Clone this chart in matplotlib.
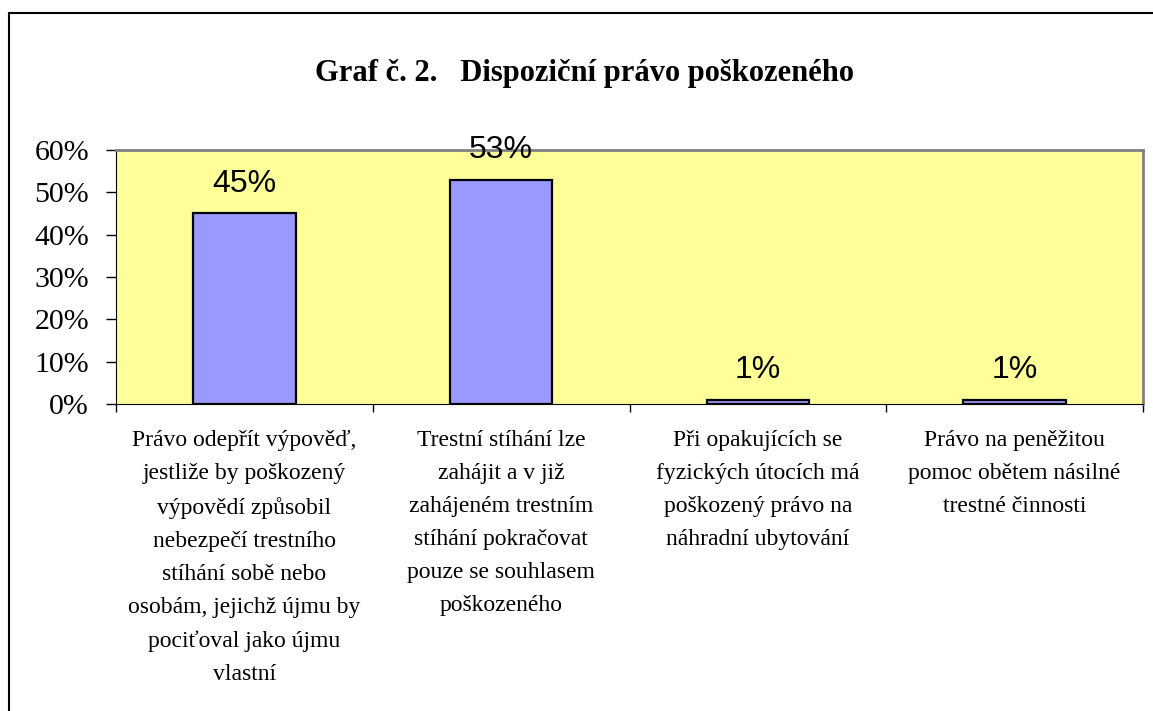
import matplotlib
matplotlib.use("Agg")
import matplotlib.pyplot as plt
from matplotlib.lines import Line2D
from matplotlib.ticker import FuncFormatter

categories = [
    "Právo odepřít výpověď,\njestliže by poškozený\nvýpovědí způsobil\nnebezpečí trestního\nstíhání sobě nebo\nosobám, jejichž újmu by\npociťoval jako újmu\nvlastní",
    "Trestní stíhání lze\nzahájit a v již\nzahájeném trestním\nstíhání pokračovat\npouze se souhlasem\npoškozeného",
    "Při opakujících se\nfyzických útocích má\npoškozený právo na\nnáhradní ubytování",
    "Právo na peněžitou\npomoc obětem násilné\ntrestné činnosti",
]
values = [0.45, 0.53, 0.01, 0.01]
labels = ["45%", "53%", "1%", "1%"]
title = "Graf č. 2.   Dispoziční právo poškozeného"

serif = ["Liberation Serif", "DejaVu Serif"]
sans = ["Liberation Sans", "DejaVu Sans"]

fig = plt.figure(figsize=(11.53, 7.11), dpi=100)
ax = fig.add_axes([116 / 1153, 1 - 404 / 711, (1143 - 116) / 1153, (404 - 150) / 711])
ax.set_facecolor("#FFFF99")

x = range(len(values))
bars = ax.bar(x, values, width=0.4, color="#9999FF", edgecolor="black", linewidth=1.6)
ax.set_xlim(-0.5, len(values) - 0.5)
ax.set_ylim(0, 0.6)

for b, lab in zip(bars, labels):
    ax.annotate(lab, (b.get_x() + b.get_width() / 2, b.get_height()),
                xytext=(0, 10.5), textcoords="offset points", ha="center", va="bottom",
                fontsize=23, family=sans)

ax.set_yticks([0, 0.1, 0.2, 0.3, 0.4, 0.5, 0.6])
ax.yaxis.set_major_formatter(FuncFormatter(lambda v, p: f"{v * 100:.0f}%"))
for t in ax.get_yticklabels():
    t.set_family(serif)
    t.set_fontsize(21.5)
ax.tick_params(axis="y", length=7.5, width=1, pad=12)

# category boundaries carry the ticks, labels sit in the middle
ax.set_xticks([i - 0.5 for i in range(len(values) + 1)])
ax.set_xticklabels([])
ax.tick_params(axis="x", length=6, width=1)
ax.set_xticks(list(x), minor=True)
ax.set_xticklabels(categories, minor=True, family=serif, fontsize=17, linespacing=1.75)
ax.tick_params(axis="x", which="minor", length=0, pad=19)

for side in ["top", "right"]:
    ax.spines[side].set_color("#808080")
    ax.spines[side].set_linewidth(2)
ax.spines["left"].set_color("black")
ax.spines["bottom"].set_color("black")

fig.text(0.507, 1 - 74 / 711, title, ha="center", va="center", fontsize=22,
         fontweight="bold", family=serif)

# outer chart frame (only the left and top edges are inside the picture)
fig.add_artist(Line2D([9 / 1153, 9 / 1153], [0, 1 - 13 / 711], color="black", lw=1.5))
fig.add_artist(Line2D([9 / 1153, 1], [1 - 13 / 711, 1 - 13 / 711], color="black", lw=1.5))

fig.savefig("out.png", dpi=100)
